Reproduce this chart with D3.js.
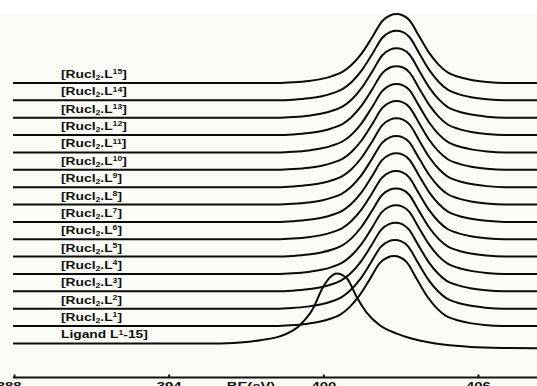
<!DOCTYPE html>
<html>
<head>
<meta charset="utf-8">
<script src="https://cdn.jsdelivr.net/npm/d3@7"></script>
<style>
  html, body { margin: 0; padding: 0; background: #ffffff; }
  svg { display: block; }
  text { font-family: "Liberation Sans", Arial, sans-serif; font-weight: bold; fill: #111; }
</style>
</head>
<body>
<div id="chart"></div>
<script>
// binding energy axis
const tickValues = [388, 394, 400, 406];
const axisTitle = 'BE(eV)';

// complexes [RuCl2.L^n], stacked one step apart above the ligand trace
const complexIds = [1, 2, 3, 4, 5, 6, 7, 8, 9, 10, 11, 12, 13, 14, 15];
const complexStack = [1, 2, 3, 4, 5, 6, 7, 8, 9, 10, 11, 12, 13, 14, 15];
const complexCenters = [402.72, 402.76, 402.78, 402.8, 402.8, 402.8, 402.81, 402.81, 402.82, 402.82, 402.82, 402.82, 402.82, 402.82, 402.82];
const complexHeights = [4.03, 3.96, 3.95, 3.96, 3.93, 3.93, 3.95, 3.95, 3.97, 3.96, 3.94, 3.97, 4.0, 4.01, 3.97];

// N1s peak shape (eV from centre, fraction of height)
const complexShapeEV = [-16, -4.6, -4.0, -3.4, -2.9, -2.5, -2.1, -1.75, -1.35, -0.95, -0.55, -0.25, 0, 0.25, 0.5, 0.89, 1.28, 1.65, 2.0, 2.4, 2.9, 3.5, 4.2, 7];
const complexShapeI = [0, 0, 0.01, 0.03, 0.06, 0.1, 0.16, 0.26, 0.43, 0.66, 0.9, 0.98, 1, 0.98, 0.91, 0.67, 0.43, 0.26, 0.15, 0.09, 0.045, 0.015, 0, 0];

// free ligand trace
const ligandLabel = 'Ligand L';
const ligandCenter = 400.5;
const ligandHeight = 4.03;
const ligandShapeEV = [-14, -4.5, -3.5, -2.9, -2.21, -1.43, -0.93, -0.54, -0.27, 0, 0.39, 0.78, 1.16, 1.67, 2.33, 2.9, 3.5, 4.2, 5.2, 6.5, 8];
const ligandShapeI = [0, 0, 0.02, 0.05, 0.1, 0.26, 0.49, 0.8, 0.94, 1, 0.93, 0.66, 0.44, 0.26, 0.14, 0.07, 0.02, -0.02, -0.05, -0.065, -0.07];

const width = 537;
const height = 386;

const svg = d3
  .select('#chart')
  .append('svg')
  .attr('width', width)
  .attr('height', height);

// slightly cream scan background below the top strip
svg
  .append('rect')
  .attr('x', 0)
  .attr('y', 13)
  .attr('width', width)
  .attr('height', height - 13)
  .attr('fill', '#fcfcf7');

const x = d3.scaleLinear().domain([387.94, 408.27]).range([13, 537]);
const y = d3.scaleLinear().domain([0, 15]).range([343.4, 83]);

const line = d3
  .line()
  .x((d) => x(d[0]))
  .y((d) => y(d[1]))
  .curve(d3.curveMonotoneX);

const clipLeft = x(387.94);

const traces = complexIds.map((id, i) => ({
  stack: complexStack[i],
  points: complexShapeEV.map((dx, j) => [
    complexCenters[i] + dx,
    complexStack[i] + complexHeights[i] * complexShapeI[j],
  ]),
}));
traces.push({
  stack: 0,
  points: ligandShapeEV.map((dx, j) => [ligandCenter + dx, ligandHeight * ligandShapeI[j]]),
});

svg
  .append('clipPath')
  .attr('id', 'plot-clip')
  .append('rect')
  .attr('x', clipLeft)
  .attr('y', 0)
  .attr('width', width - clipLeft)
  .attr('height', height);

svg
  .append('g')
  .attr('clip-path', 'url(#plot-clip)')
  .selectAll('path')
  .data(traces)
  .join('path')
  .attr('d', (d) => line(d.points))
  .attr('fill', 'none')
  .attr('stroke', '#0a0a0a')
  .attr('stroke-width', 2)
  .attr('stroke-linejoin', 'round');

// trace labels (scan is stretched horizontally, so the text is too)
const labelX = 61;
const stretch = 1.38;

complexIds.forEach((id, i) => {
  const t = svg
    .append('text')
    .attr('transform', `translate(${labelX},${y(complexStack[i]) - 5}) scale(${stretch},1)`)
    .attr('font-size', 10);
  t.append('tspan').text('[Rucl');
  t.append('tspan').attr('font-size', 6.3).attr('dy', 2).text('2');
  t.append('tspan').attr('dy', -2).text('.L');
  t.append('tspan').attr('font-size', 6.3).attr('dy', -3.8).text(id);
  t.append('tspan').attr('dy', 3.8).text(']');
});

const lt = svg
  .append('text')
  .attr('transform', `translate(${labelX},${y(0) - 5}) scale(${stretch},1)`)
  .attr('font-size', 10);
lt.append('tspan').text(ligandLabel);
lt.append('tspan').attr('font-size', 6.3).attr('dy', -3.8).text('1');
lt.append('tspan').attr('dy', 3.8).text('-15]');

// bottom axis, ticks point up
const axisY = 377.5;
const axis = svg.append('g').attr('transform', `translate(0,${axisY})`);
axis
  .append('line')
  .attr('x1', 13)
  .attr('x2', width)
  .attr('stroke', '#111')
  .attr('stroke-width', 1.8);

const ticks = axis
  .selectAll('g.tick')
  .data(tickValues)
  .join('g')
  .attr('class', 'tick')
  .attr('transform', (d) => `translate(${x(d)},0)`);

ticks
  .append('line')
  .attr('y1', 0)
  .attr('y2', -3)
  .attr('stroke', '#111')
  .attr('stroke-width', 2);

ticks
  .append('text')
  .attr('transform', (d, i) => `translate(${i === 0 ? 7 : 0},12) scale(1.35,1)`)
  .attr('text-anchor', (d, i) => (i === 0 ? 'end' : 'middle'))
  .attr('font-size', 11)
  .text((d) => d);

axis
  .append('text')
  .attr('transform', 'translate(251,12) scale(1.35,1)')
  .attr('text-anchor', 'middle')
  .attr('font-size', 11)
  .text(axisTitle);
</script>
</body>
</html>
